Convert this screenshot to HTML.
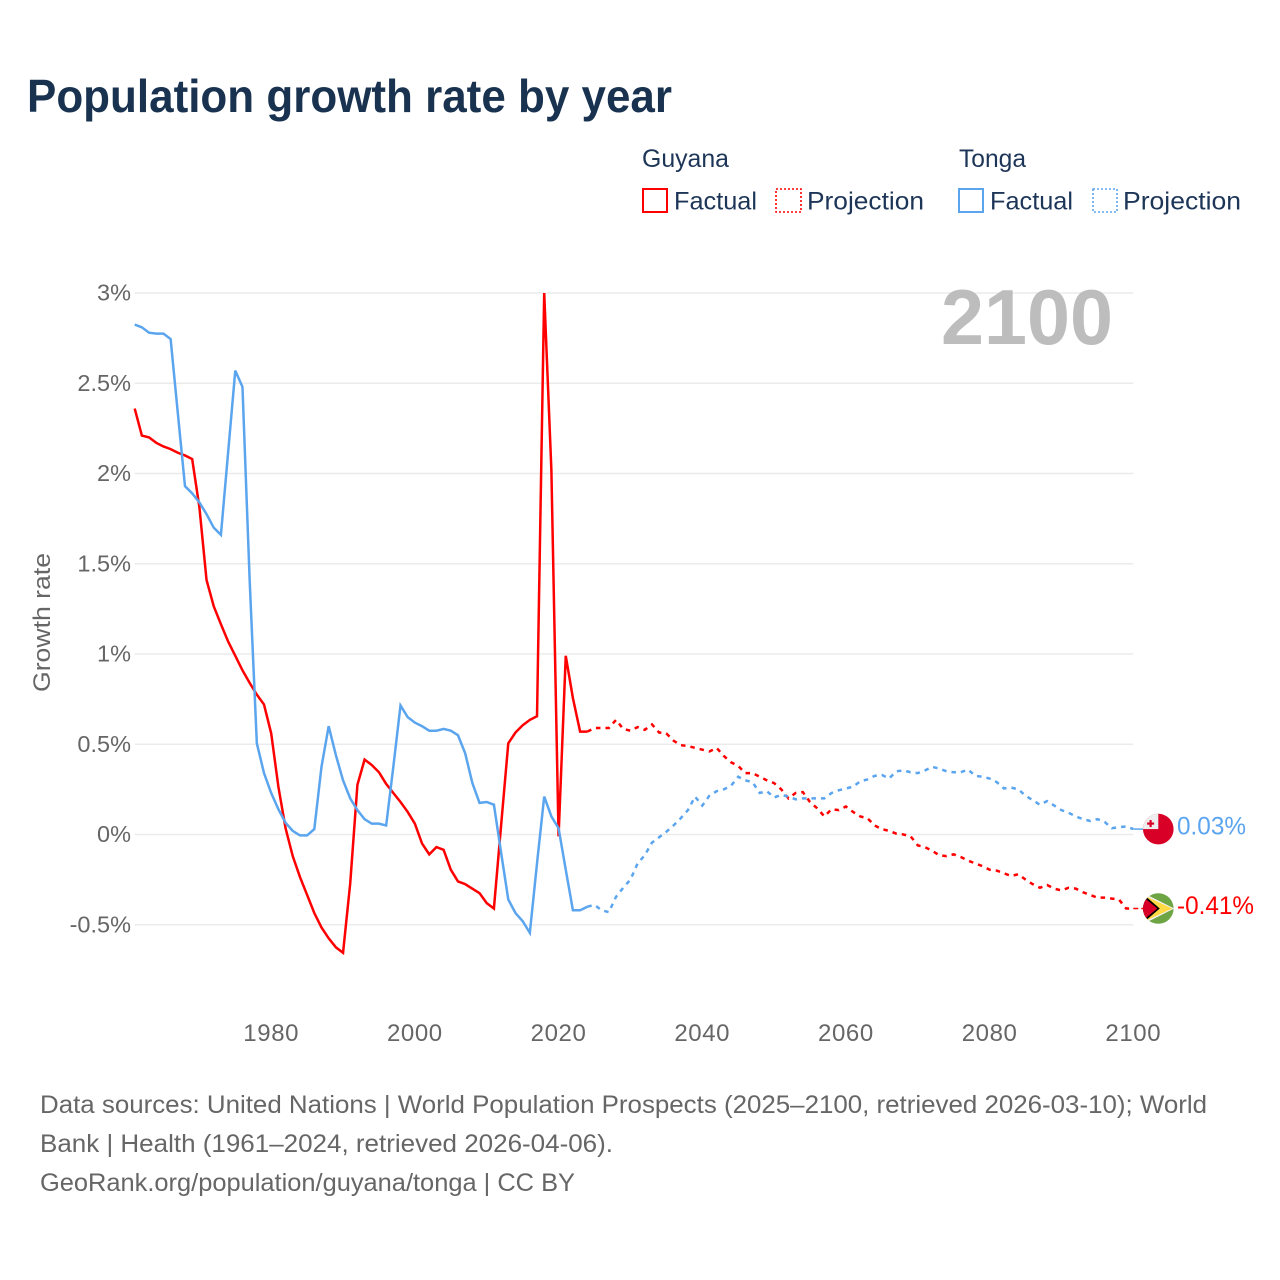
<!DOCTYPE html>
<html lang="en">
<head>
<meta charset="utf-8">
<title>Population growth rate by year</title>
<style>
html,body{margin:0;padding:0;background:#fff;}
svg{display:block;font-family:"Liberation Sans",sans-serif;}
</style>
</head>
<body>
<svg id="chart" xmlns="http://www.w3.org/2000/svg" width="1280" height="1280" viewBox="0 0 1280 1280">
  <rect x="0" y="0" width="1280" height="1280" fill="#ffffff"/>
  <text x="27" y="112" font-size="46" font-weight="700" fill="#18324f" textLength="645" lengthAdjust="spacingAndGlyphs">Population growth rate by year</text>

  <g font-size="25" fill="#1d3557">
    <text x="642" y="167" textLength="87" lengthAdjust="spacingAndGlyphs">Guyana</text>
    <rect x="643" y="189" width="24" height="23" fill="none" stroke="#ff0000" stroke-width="2"/>
    <text x="674" y="209.500" textLength="83" lengthAdjust="spacingAndGlyphs">Factual</text>
    <rect x="776" y="189" width="25" height="23" fill="none" stroke="#ff0000" stroke-width="1.6" stroke-dasharray="2 2"/>
    <text x="807" y="209.500" textLength="117" lengthAdjust="spacingAndGlyphs">Projection</text>
    <text x="959" y="167" textLength="67" lengthAdjust="spacingAndGlyphs">Tonga</text>
    <rect x="959" y="189" width="24" height="23" fill="none" stroke="#5ba5ef" stroke-width="2"/>
    <text x="990" y="209.500" textLength="83" lengthAdjust="spacingAndGlyphs">Factual</text>
    <rect x="1093" y="189" width="24" height="23" fill="none" stroke="#5ba5ef" stroke-width="1.6" stroke-dasharray="2 2"/>
    <text x="1123" y="209.500" textLength="118" lengthAdjust="spacingAndGlyphs">Projection</text>
  </g>

  <g id="grid"></g>
  <g id="y-axis"></g>
  <g id="x-axis"></g>
  <text transform="translate(50,692) rotate(-90)" font-size="24" fill="#666666" textLength="139" lengthAdjust="spacingAndGlyphs">Growth rate</text>
  <text id="year-watermark" x="941" y="344" font-size="78" font-weight="700" fill="#bdbdbd" textLength="172" lengthAdjust="spacingAndGlyphs">2100</text>

  <g id="series"></g>

  <g id="flag-tonga">
    <clipPath id="clip-tonga"><circle cx="0" cy="0" r="15.3"/></clipPath>
    <g clip-path="url(#clip-tonga)">
      <rect x="-16" y="-16" width="32" height="32" fill="#d80027"/>
      <rect x="-16" y="-16" width="16" height="16" fill="#eeeeee"/>
      <rect x="-8.8" y="-9" width="2.2" height="7" fill="#d80027"/>
      <rect x="-11.2" y="-6.6" width="7" height="2.2" fill="#d80027"/>
    </g>
  </g>
  <g id="flag-guyana">
    <clipPath id="clip-guyana"><circle cx="0" cy="0" r="15.3"/></clipPath>
    <g clip-path="url(#clip-guyana)">
      <rect x="-16" y="-16" width="32" height="32" fill="#6da544"/>
      <polygon points="-16,-16 16,0 -16,16" fill="#f0f0f0"/>
      <polygon points="-16,-14 14,0 -16,14" fill="#ffda44"/>
      <polygon points="-16,-15 1.5,0 -16,15" fill="#000000"/>
      <polygon points="-16,-12.5 -1,0 -16,12.5" fill="#d80027"/>
    </g>
  </g>
  <text id="label-tonga" x="1177" font-size="25" fill="#5ba5ef" textLength="69" lengthAdjust="spacingAndGlyphs"></text>
  <text id="label-guyana" x="1177" font-size="25" fill="#ff0000" textLength="77" lengthAdjust="spacingAndGlyphs"></text>

  <g font-size="25" fill="#666666">
    <text x="40" y="1113" textLength="1167" lengthAdjust="spacingAndGlyphs">Data sources: United Nations | World Population Prospects (2025–2100, retrieved 2026-03-10); World</text>
    <text x="40" y="1152" textLength="573" lengthAdjust="spacingAndGlyphs">Bank | Health (1961–2024, retrieved 2026-04-06).</text>
    <text x="40" y="1191" textLength="535" lengthAdjust="spacingAndGlyphs">GeoRank.org/population/guyana/tonga | CC BY</text>
  </g>
</svg>
<script>
const factualYears = [1961,1962,1963,1964,1965,1966,1967,1968,1969,1970,1971,1972,1973,1974,1975,1976,1977,1978,1979,1980,1981,1982,1983,1984,1985,1986,1987,1988,1989,1990,1991,1992,1993,1994,1995,1996,1997,1998,1999,2000,2001,2002,2003,2004,2005,2006,2007,2008,2009,2010,2011,2012,2013,2014,2015,2016,2017,2018,2019,2020,2021,2022,2023,2024];
const projectionYears = [2024,2025,2026,2027,2028,2029,2030,2031,2032,2033,2034,2035,2036,2037,2038,2039,2040,2041,2042,2043,2044,2045,2046,2047,2048,2049,2050,2051,2052,2053,2054,2055,2056,2057,2058,2059,2060,2061,2062,2063,2064,2065,2066,2067,2068,2069,2070,2071,2072,2073,2074,2075,2076,2077,2078,2079,2080,2081,2082,2083,2084,2085,2086,2087,2088,2089,2090,2091,2092,2093,2094,2095,2096,2097,2098,2099,2100];

const guyanaFactual = [2.36,2.21,2.20,2.17,2.15,2.135,2.115,2.10,2.08,1.815,1.41,1.265,1.165,1.07,0.99,0.91,0.84,0.775,0.72,
  0.56,0.265,0.035,-0.12,-0.235,-0.335,-0.435,-0.515,-0.575,-0.625,
  -0.655,-0.27,0.275,0.415,0.385,0.345,0.28,0.23,0.18,0.125,
  0.06,-0.05,-0.11,-0.07,-0.085,-0.195,-0.26,-0.275,-0.30,-0.325,
  -0.38,-0.41,0.05,0.505,0.565,0.605,0.635,0.655,3.0,2.02,
  -0.01,0.99,0.755,0.57,0.57];
const guyanaProjection = [0.57,0.59,0.59,0.59,0.635,0.585,0.575,0.595,0.58,0.61,0.565,0.56,
  0.52,0.495,0.49,0.48,0.47,0.46,0.48,0.435,0.40,0.38,0.34,0.34,0.32,0.30,
  0.285,0.25,0.20,0.23,0.235,0.18,0.145,0.10,0.14,0.135,
  0.155,0.125,0.10,0.09,0.05,0.03,0.02,0.005,0.0,-0.01,
  -0.06,-0.07,-0.09,-0.115,-0.12,-0.11,-0.125,-0.145,-0.16,-0.175,
  -0.195,-0.20,-0.215,-0.23,-0.22,-0.25,-0.275,-0.295,-0.28,-0.30,
  -0.31,-0.295,-0.30,-0.32,-0.335,-0.35,-0.35,-0.355,-0.36,-0.41,
  -0.41];
const tongaFactual = [2.825,2.81,2.78,2.775,2.775,2.745,2.335,1.93,1.89,1.84,1.775,1.70,1.66,2.115,2.57,2.48,1.41,0.505,0.34,
  0.23,0.14,0.065,0.02,-0.005,-0.005,0.03,0.375,0.60,0.44,
  0.30,0.20,0.135,0.085,0.06,0.06,0.05,0.375,0.715,0.65,
  0.62,0.60,0.575,0.575,0.585,0.575,0.55,0.45,0.285,0.175,
  0.18,0.165,-0.10,-0.36,-0.435,-0.48,-0.545,-0.16,0.21,0.10,
  0.035,-0.195,-0.42,-0.42,-0.40];
const tongaProjection = [-0.40,-0.39,-0.42,-0.43,-0.345,-0.295,-0.25,-0.16,-0.115,-0.045,-0.015,0.015,
  0.05,0.09,0.135,0.21,0.16,0.215,0.24,0.25,0.27,0.32,0.30,0.29,0.23,0.24,
  0.205,0.22,0.21,0.195,0.20,0.20,0.20,0.20,0.23,0.245,
  0.255,0.265,0.295,0.305,0.325,0.33,0.31,0.35,0.355,0.345,
  0.34,0.355,0.375,0.365,0.35,0.345,0.345,0.36,0.325,0.32,
  0.31,0.29,0.255,0.26,0.25,0.215,0.19,0.165,0.185,0.16,
  0.135,0.12,0.10,0.085,0.075,0.085,0.07,0.035,0.04,0.045,
  0.03];

const yTickValues = [-0.5,0,0.5,1,1.5,2,2.5,3];
const yTickLabels = ["-0.5%","0%","0.5%","1%","1.5%","2%","2.5%","3%"];
const xTickValues = [1980,2000,2020,2040,2060,2080,2100];
const xTickLabels = ["1980","2000","2020","2040","2060","2080","2100"];
const endLabels = ["0.03%","-0.41%"];

const NS = "http://www.w3.org/2000/svg";
const RED = "#ff0000";
const BLUE = "#5ba5ef";
const X_MIN_YEAR = 1961, X_MAX_YEAR = 2100, X_LEFT = 134.7, X_RIGHT = 1133.3;
const Y_ZERO = 834.5, Y_PER_UNIT = 180.5;

function xScale(year) {
  return X_LEFT + (year - X_MIN_YEAR) * (X_RIGHT - X_LEFT) / (X_MAX_YEAR - X_MIN_YEAR);
}
function yScale(value) {
  return Y_ZERO - value * Y_PER_UNIT;
}
function make(tag, attrs, parent) {
  const el = document.createElementNS(NS, tag);
  Object.keys(attrs).forEach(function (k) { el.setAttribute(k, attrs[k]); });
  parent.appendChild(el);
  return el;
}
function linePoints(years, values) {
  return years.map(function (yr, i) {
    return xScale(yr).toFixed(2) + "," + yScale(values[i]).toFixed(2);
  }).join(" ");
}

const gridGroup = document.getElementById("grid");
const yAxisGroup = document.getElementById("y-axis");
const xAxisGroup = document.getElementById("x-axis");
const seriesGroup = document.getElementById("series");

yTickValues.forEach(function (v, i) {
  const line = make("line", {x1: X_LEFT, x2: X_RIGHT, y1: yScale(v), y2: yScale(v), stroke: "#ebebeb", "stroke-width": 1.5}, gridGroup);
  
  
  const label = make("text", {x: 131, y: yScale(v) + 7.5, "text-anchor": "end", "font-size": 23.5, fill: "#666666"}, yAxisGroup);
  
  
  label.textContent = yTickLabels[i];
});

xTickValues.forEach(function (yr, i) {
  const label = make("text", {x: xScale(yr), y: 1041, "text-anchor": "middle", "font-size": 24, "letter-spacing": 0.6, fill: "#666666"}, xAxisGroup);
  
  
  label.textContent = xTickLabels[i];
});

function drawSeries(years, values, color, dash) {
  const attrs = {points: linePoints(years, values), fill: "none", stroke: color, "stroke-width": 2.5, "stroke-linejoin": "miter"};
  if (dash) { attrs["stroke-dasharray"] = dash; }
  return make("polyline", attrs, seriesGroup);
}

const guyanaFactualLine = drawSeries(factualYears, guyanaFactual, RED, null);


const guyanaProjectionLine = drawSeries(projectionYears, guyanaProjection, RED, "4.5 5");


const tongaFactualLine = drawSeries(factualYears, tongaFactual, BLUE, null);


const tongaProjectionLine = drawSeries(projectionYears, tongaProjection, BLUE, "4.5 5");



const tongaEnd = tongaProjection[tongaProjection.length - 1];
const guyanaEnd = guyanaProjection[guyanaProjection.length - 1];

const tongaConnector = make("line", {x1: X_RIGHT, x2: 1143, y1: yScale(tongaEnd), y2: yScale(tongaEnd), stroke: BLUE, "stroke-width": 1.5}, seriesGroup);


const guyanaConnector = make("line", {x1: X_RIGHT, x2: 1143, y1: yScale(guyanaEnd), y2: yScale(guyanaEnd), stroke: RED, "stroke-width": 1.5, "stroke-dasharray": "5 3"}, seriesGroup);



document.getElementById("flag-tonga").setAttribute("transform", "translate(1158.3," + yScale(tongaEnd) + ")");
document.getElementById("flag-guyana").setAttribute("transform", "translate(1158.3," + yScale(guyanaEnd) + ")");
const labelTonga = document.getElementById("label-tonga");
labelTonga.setAttribute("y", yScale(tongaEnd) + 5.5);
labelTonga.textContent = endLabels[0];
const labelGuyana = document.getElementById("label-guyana");
labelGuyana.setAttribute("y", yScale(guyanaEnd) + 5.5);
labelGuyana.textContent = endLabels[1];
</script>
</body>
</html>
